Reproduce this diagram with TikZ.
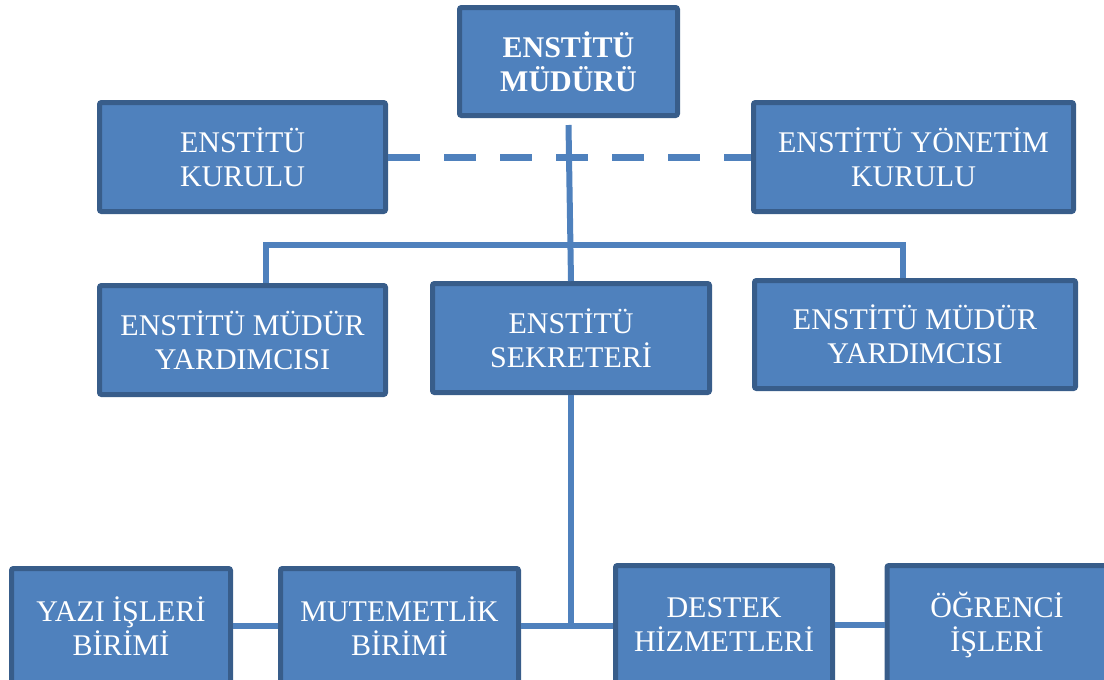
\documentclass[tikz,border=0pt]{standalone}
\usepackage{fontspec}
\setmainfont{Liberation Serif}
\definecolor{boxfill}{HTML}{4F81BD}
\definecolor{boxline}{HTML}{385D8A}
\tikzset{
  unit/.style={draw=boxline, fill=boxfill, line width=5pt, rounded corners=2pt,
    text=white, align=center, font=\fontsize{30}{34}\selectfont, inner sep=0pt},
  link/.style={draw=boxfill, line width=6pt}
}
\begin{document}
\begin{tikzpicture}[x=1pt, y=-1pt]
\useasboundingbox ( 0, 0 ) rectangle ( 1104, 680 );

%% Top level
\node [unit, minimum width=218pt, minimum height=108pt, font=\fontsize{30}{34}\selectfont\bfseries] (mudur) at ( 568.5, 61.5 ) {ENSTİTÜ\\MÜDÜRÜ};
\node [unit, minimum width=286pt, minimum height=109pt] (kurul) at ( 242.5, 157 ) {ENSTİTÜ\\KURULU};
\node [unit, minimum width=320pt, minimum height=109pt] (yonetim) at ( 913.5, 157 ) {ENSTİTÜ YÖNETİM\\KURULU};

%% Second level
\node [unit, minimum width=286pt, minimum height=109pt] (yrdsol) at ( 242.5, 340 ) {ENSTİTÜ MÜDÜR\\YARDIMCISI};
\node [unit, minimum width=277pt, minimum height=109pt] (sekreter) at ( 571, 338 ) {ENSTİTÜ\\SEKRETERİ};
\node [unit, minimum width=321pt, minimum height=108pt] (yrdsag) at ( 915, 334.5 ) {ENSTİTÜ MÜDÜR\\YARDIMCISI};

%% Units (cut by the page bottom)
\node [unit, minimum width=219pt, minimum height=115pt] (yazi) at ( 121, 626 ) {YAZI İŞLERİ\\BİRİMİ};
\node [unit, minimum width=238pt, minimum height=115pt] (mutemet) at ( 399.5, 626 ) {MUTEMETLİK\\BİRİMİ};
\node [unit, minimum width=217pt, minimum height=118pt] (destek) at ( 724, 624.5 ) {DESTEK\\HİZMETLERİ};
\node [unit, minimum width=220pt, minimum height=118pt] (ogrenci) at ( 997, 624.5 ) {ÖĞRENCİ\\İŞLERİ};

%% Links
\draw [link, dash pattern=on 32pt off 24pt, line width=7pt] (kurul.east) -- (yonetim.west);
\coordinate (bar) at ( 570, 245 );
\draw [link] ([xshift=23pt]yrdsol.north) |- (bar) -| ([xshift=-12pt]yrdsag.north);
\draw [link] ([yshift=-7pt]mudur.south) -- (sekreter.north);
\draw [link] (sekreter.south) -- (sekreter.south |- mutemet.east);
\draw [link] (mutemet.east) -- (mutemet.east -| destek.west);
\draw [link] (yazi.east) -- (mutemet.west);
\draw [link] (destek.east) -- (ogrenci.west);

\end{tikzpicture}
\end{document}
